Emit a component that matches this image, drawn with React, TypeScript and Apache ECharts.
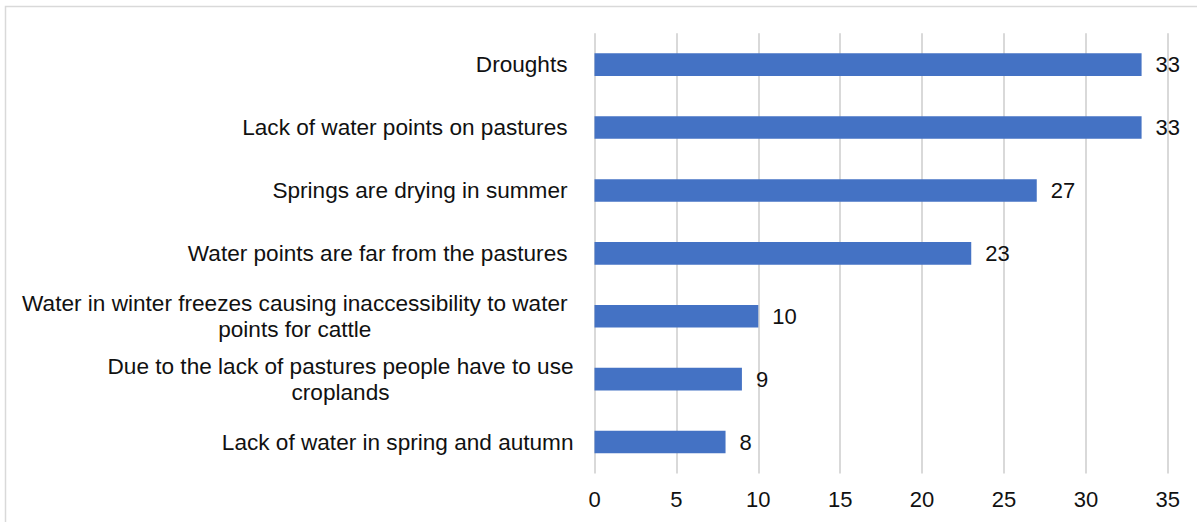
import React, { useEffect, useRef } from "react";
import * as echarts from "echarts";

const categories: string[] = [
  "Droughts",
  "Lack of water points on pastures",
  "Springs are drying in summer",
  "Water points are far from the pastures",
  "Water in winter freezes causing inaccessibility to water\npoints for cattle",
  "Due to the lack of pastures people have to use\ncroplands",
  "Lack of water in spring and autumn",
];

const values: number[] = [33.4, 33.4, 27, 23, 10, 9, 8];
const valueLabels: string[] = ["33", "33", "27", "23", "10", "9", "8"];

const xMin = 0;
const xMax = 35;
const xInterval = 5;

// labels drawn without the trailing gap (sit closer to the axis)
const TIGHT_LABELS = [5, 6];

const FONT = "'Liberation Sans', Arial, Helvetica, sans-serif";
const TEXT = "#111111";

export default function App() {
  const ref = useRef<HTMLDivElement>(null);

  useEffect(() => {
    if (!ref.current) return;
    const chart = echarts.init(ref.current, null, { renderer: "svg" });
    const catStyle = {
      align: "center",
      fontSize: 22.6,
      lineHeight: 26,
      color: TEXT,
      fontFamily: FONT,
    };
    chart.setOption({
      animation: false,
      backgroundColor: "#ffffff",
      textStyle: { fontFamily: FONT },
      graphic: [
        {
          type: "rect",
          shape: { x: 5.5, y: 6.5, width: 1400, height: 700 },
          style: { fill: "none", stroke: "#d9d9d9", lineWidth: 1.5 },
          silent: true,
          z: -10,
        },
      ],
      grid: {
        left: 594.5,
        right: 29.2,
        top: 33.2,
        bottom: 48.5,
        containLabel: false,
      },
      xAxis: {
        type: "value",
        min: xMin,
        max: xMax,
        interval: xInterval,
        axisLine: { show: false },
        axisTick: { show: false },
        splitLine: { show: true, lineStyle: { color: "#d9d9d9", width: 2 } },
        axisLabel: {
          color: TEXT,
          fontSize: 22,
          lineHeight: 22,
          margin: 15,
          fontFamily: FONT,
        },
      },
      yAxis: {
        type: "category",
        data: categories,
        inverse: true,
        axisLine: { show: false },
        axisTick: { show: false },
        splitLine: { show: false },
        axisLabel: {
          margin: 21,
          color: TEXT,
          fontSize: 22.6,
          fontFamily: FONT,
          formatter: (v: string, idx: number) => {
            const s = TIGHT_LABELS.indexOf(idx) >= 0 ? "c" : "p";
            return v
              .split("\n")
              .map((l) => `{${s}|${l}}`)
              .join("\n");
          },
          rich: {
            c: catStyle,
            p: { ...catStyle, padding: [0, 6, 0, 0] },
          },
        },
      },
      series: [
        {
          type: "bar",
          data: values,
          barWidth: "36%",
          itemStyle: { color: "#4472C4" },
          label: {
            show: true,
            position: "right",
            distance: 14,
            color: TEXT,
            fontSize: 22,
            fontFamily: FONT,
            formatter: (p: any) => valueLabels[p.dataIndex],
          },
        },
      ],
    });
    return () => chart.dispose();
  }, []);

  return (
    <div
      ref={ref}
      style={{
        position: "fixed",
        left: 0,
        top: 0,
        width: 1197,
        height: 522,
        background: "#ffffff",
      }}
    />
  );
}
